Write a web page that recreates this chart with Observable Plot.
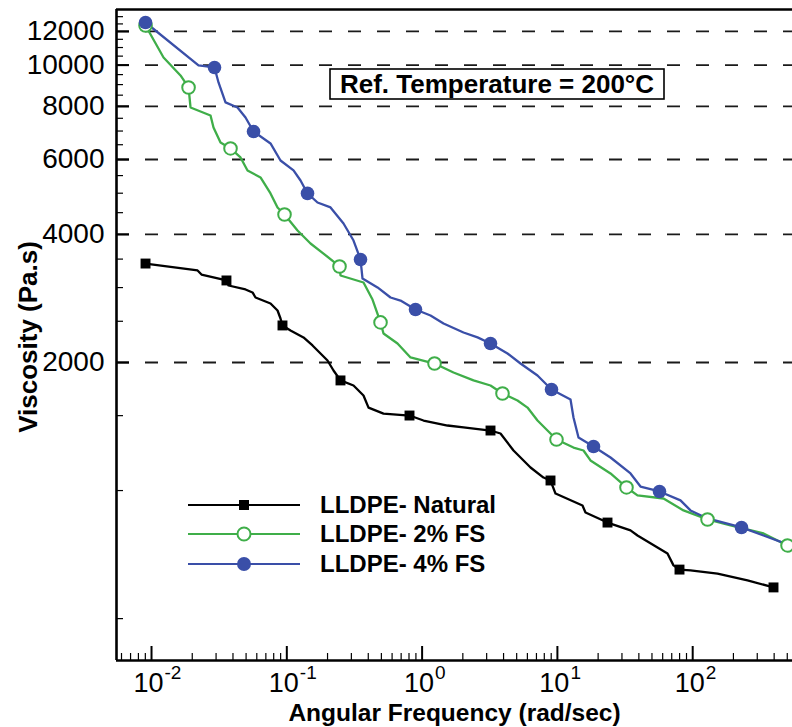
<!DOCTYPE html>
<html>
<head>
<meta charset="utf-8">
<script src="https://cdn.jsdelivr.net/npm/d3@7"></script>
<script src="https://cdn.jsdelivr.net/npm/@observablehq/plot@0.6"></script>
<style>
  html, body { margin: 0; padding: 0; background: #fff; }
  #chart svg { display: block; }
</style>
</head>
<body>
<div id="chart"></div>
<script>
// ---------- data ----------
const seriesNames = ["LLDPE- Natural", "LLDPE- 2% FS", "LLDPE- 4% FS"];
const seriesColors = ["#000000", "#3fae49", "#3a4fa8"];

const naturalFreq = [0.00903,0.0219,0.0234,0.0358,0.0371,0.0495,0.0558,0.0587,0.0758,0.0854,0.0898,0.0929,0.1065,0.1328,0.1549,0.1999,0.2214,0.2493,0.3112,0.3688,0.4017,0.5184,0.8069,1.024,1.541,2.023,3.203,3.797,4.738,6.328,7.893,8.892,9.683,15.33,16.13,23.46,34.70,39.08,54.93,65.12,72.13,79.88,96.3,152.5,254.1,395.6];
const naturalVisc = [3417,3291,3220,3118,3034,2970,2922,2843,2753,2650,2538,2444,2378,2291,2193,2022,1915,1815,1766,1673,1567,1517,1501,1461,1422,1407,1384,1362,1242,1133,1073,1056,984,922,888,841,806,784,735,711,667,652,649,638,615,592];
const naturalMarkers = [0,3,11,17,22,26,31,35,41,45];

const fs2Freq = [0.00903,0.01227,0.01638,0.01878,0.01942,0.0273,0.02872,0.03236,0.03836,0.04547,0.05124,0.06391,0.07577,0.08538,0.09616,0.12,0.1497,0.1867,0.2452,0.2493,0.3688,0.43,0.4927,0.5184,0.658,0.8209,1.235,1.706,2.398,3.203,3.928,5.071,6.012,7.127,8.449,9.847,13.15,15.59,17.56,24.69,32.41,39.08,60.84,85.51,128.7,190.3,333.7,502.3];
const fs2Visc = [12393,10424,9456,8861,7952,7614,7136,6580,6370,6067,5655,5444,4994,4629,4456,4087,3808,3607,3363,3203,3084,2812,2485,2340,2217,2055,1989,1895,1815,1766,1691,1628,1567,1461,1384,1318,1262,1242,1177,1097,1017,974,958,898,855,828,793,743];
const fs2Markers = [0,3,8,14,18,22,26,30,35,40,44,47];

const fs4Freq = [0.00903,0.02225,0.02921,0.03127,0.03522,0.04321,0.04951,0.05675,0.07577,0.08982,0.1121,0.1263,0.1422,0.1686,0.2104,0.2625,0.3112,0.3505,0.3627,0.4682,0.5842,0.6925,0.8937,1.154,1.44,2.023,2.568,3.203,4.278,5.337,7.127,9.045,12.5,13.15,14.32,18.49,24.69,34.7,41.13,56.84,81.24,96.3,128.7,229.5,333.7,502.3];
const fs4Visc = [12597,9982,9875,9106,8173,7952,7534,6982,6545,5969,5655,5356,4994,4754,4629,4244,3870,3493,3151,3002,2843,2797,2664,2579,2470,2353,2291,2217,2100,1989,1864,1728,1637,1485,1332,1269,1196,1097,1022,995,948,898,860,819,784,747];
const fs4Markers = [0,2,7,12,17,22,27,31,35,39,43];

const xTickValues = [0.01, 0.1, 1, 10, 100];
const xTickExponents = ["-2", "-1", "0", "1", "2"];
const yTickValues = [2000, 4000, 6000, 8000, 10000, 12000];
const yTickLabels = ["2000", "4000", "6000", "8000", "10000", "12000"];

const xTitle = "Angular Frequency (rad/sec)";
const yTitle = "Viscosity (Pa.s)";
const annotationText = "Ref. Temperature = 200°C";

const xDomain = [0.00551, 546.6];
const yDomain = [398.6, 13514];

// ---------- derived tables ----------
const freqs = [naturalFreq, fs2Freq, fs4Freq];
const viscs = [naturalVisc, fs2Visc, fs4Visc];
const markerIdx = [naturalMarkers, fs2Markers, fs4Markers];

const lineRows = [];
const markerRows = [[], [], []];
seriesNames.forEach((name, s) => {
  freqs[s].forEach((f, i) => lineRows.push({series: name, freq: f, visc: viscs[s][i]}));
  markerIdx[s].forEach(i => markerRows[s].push({series: name, freq: freqs[s][i], visc: viscs[s][i]}));
});

const xMinorTicks = [];
for (let e = -3; e <= 2; e++) for (let k = 2; k <= 9; k++) {
  const v = k * Math.pow(10, e);
  if (v > xDomain[0] && v < xDomain[1]) xMinorTicks.push(v);
}
const yMinorTicks = d3.range(500, 13001, 500).filter(v => !yTickValues.includes(v));

// ---------- layout ----------
const W = 792, H = 727;
const mL = 116, mT = 9, mR = 0, mB = 67;
const plotW = W - mL - mR, plotH = H - mT - mB;
const FONT = "'Liberation Sans', Arial, Helvetica, sans-serif";

// legend + annotation (custom render mark)
function overlay(index, scales, values, dims) {
  const g = d3.create("svg:g").attr("font-family", FONT);
  const L = dims.marginLeft, T = dims.marginTop;
  // annotation box
  const bx = L + 214, by = T + 60, bw = 334, bh = 30;
  g.append("rect").attr("x", bx).attr("y", by).attr("width", bw).attr("height", bh)
    .attr("fill", "#fff").attr("stroke", "#000").attr("stroke-width", 1.6);
  g.append("text").attr("x", bx + bw / 2).attr("y", by + bh / 2).attr("dy", "0.35em")
    .attr("text-anchor", "middle").attr("font-weight", "bold").attr("font-size", 26)
    .attr("fill", "#000").text(annotationText);
  // legend
  const lx0 = L + 72, lx1 = L + 184, mx = L + 128, tx = L + 204;
  const rowY = [T + 496, T + 525, T + 555];
  seriesNames.forEach((name, s) => {
    const y = rowY[s];
    g.append("line").attr("x1", lx0).attr("x2", lx1).attr("y1", y).attr("y2", y)
      .attr("stroke", seriesColors[s]).attr("stroke-width", 2.2);
    if (s === 0) {
      g.append("rect").attr("x", mx - 5).attr("y", y - 5).attr("width", 10).attr("height", 10).attr("fill", "#000");
    } else if (s === 1) {
      g.append("circle").attr("cx", mx).attr("cy", y).attr("r", 6.5).attr("fill", "#fff")
        .attr("stroke", seriesColors[s]).attr("stroke-width", 2);
    } else {
      g.append("circle").attr("cx", mx).attr("cy", y).attr("r", 7).attr("fill", seriesColors[s]);
    }
    g.append("text").attr("x", tx).attr("y", y).attr("dy", "0.35em")
      .attr("text-anchor", "start")
      .attr("font-weight", "bold").attr("font-size", 24).attr("fill", "#000").text(name);
  });
  return g.node();
}

const chart = Plot.plot({
  width: W,
  height: H,
  marginLeft: mL,
  marginTop: mT,
  marginRight: mR,
  marginBottom: mB,
  style: {fontFamily: FONT, background: "#fff", color: "#000", overflow: "visible"},
  x: {type: "log", domain: xDomain, axis: null},
  y: {type: "log", domain: yDomain, axis: null},
  color: {domain: seriesNames, range: seriesColors},
  marks: [
    // dashed grid
    Plot.ruleY(yTickValues, {stroke: "#1a1a1a", strokeWidth: 1.8, strokeDasharray: "13,16"}),
    // ticks (inward)
    Plot.ruleX(xTickValues, {stroke: "#000", strokeWidth: 2, insetTop: plotH - 14}),
    Plot.ruleX(xMinorTicks, {stroke: "#000", strokeWidth: 1.2, insetTop: plotH - 7}),
    Plot.ruleY(yTickValues, {stroke: "#000", strokeWidth: 2, insetRight: plotW - 13}),
    Plot.ruleY(yMinorTicks, {stroke: "#000", strokeWidth: 1.2, insetRight: plotW - 7}),
    // frame
    Plot.ruleX([xDomain[0]], {stroke: "#000", strokeWidth: 2.6}),
    Plot.ruleY([yDomain[0]], {stroke: "#000", strokeWidth: 2.6}),
    Plot.ruleY([yDomain[1]], {stroke: "#000", strokeWidth: 2.6}),
    // tick labels
    Plot.text(yTickValues, {x: xDomain[0], y: d => d, text: (d, i) => yTickLabels[i],
      textAnchor: "end", lineAnchor: "middle", dx: -12, fontSize: 28, fill: "#000"}),
    Plot.text(xTickValues, {x: d => d, y: yDomain[0], text: () => "10",
      textAnchor: "end", lineAnchor: "middle", dx: 12, dy: 23, fontSize: 27, fill: "#000"}),
    Plot.text(xTickValues, {x: d => d, y: yDomain[0], text: (d, i) => xTickExponents[i],
      textAnchor: "start", lineAnchor: "middle", dx: 13, dy: 12, fontSize: 19, fill: "#000"}),
    // axis titles
    Plot.text([xTitle], {frameAnchor: "bottom", textAnchor: "middle", lineAnchor: "middle",
      dy: 53, fontSize: 24.5, fontWeight: "bold", fill: "#000"}),
    Plot.text([yTitle], {frameAnchor: "left", textAnchor: "middle", lineAnchor: "middle",
      rotate: -90, dx: -88, dy: 2, fontSize: 26, fontWeight: "bold", fill: "#000"}),
    // data lines
    Plot.line(lineRows, {x: "freq", y: "visc", z: "series", stroke: "series", strokeWidth: 2.3, curve: "linear"}),
    // markers
    Plot.dot(markerRows[0], {x: "freq", y: "visc", symbol: "square", r: 5.6, fill: seriesColors[0], stroke: "none"}),
    Plot.dot(markerRows[1], {x: "freq", y: "visc", r: 6.3, fill: "#fff", stroke: seriesColors[1], strokeWidth: 2}),
    Plot.dot(markerRows[2], {x: "freq", y: "visc", r: 6.8, fill: seriesColors[2], stroke: "none"}),
    // legend and annotation
    overlay
  ]
});

document.getElementById("chart").appendChild(chart);
</script>
</body>
</html>
